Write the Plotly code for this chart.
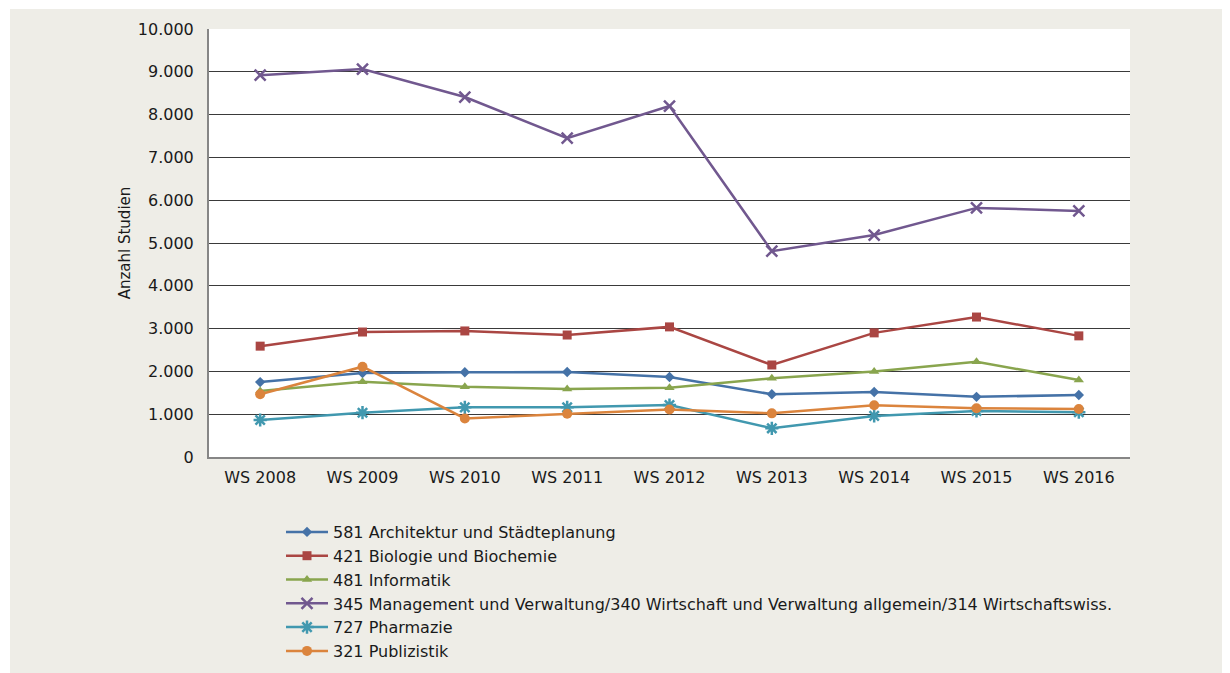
import plotly.graph_objects as go

categories = ["WS 2008", "WS 2009", "WS 2010", "WS 2011", "WS 2012", "WS 2013", "WS 2014", "WS 2015", "WS 2016"]

names = [
    "581 Architektur und Städteplanung",
    "421 Biologie und Biochemie",
    "481 Informatik",
    "345 Management und Verwaltung/340 Wirtschaft und Verwaltung allgemein/314 Wirtschaftswiss.",
    "727 Pharmazie",
    "321 Publizistik",
]

architektur = [1750, 1960, 1980, 1985, 1870, 1465, 1520, 1405, 1450]
biologie = [2590, 2920, 2945, 2850, 3040, 2150, 2900, 3270, 2830]
informatik = [1540, 1760, 1640, 1590, 1620, 1840, 1995, 2225, 1800]
management = [8920, 9065, 8410, 7450, 8200, 4810, 5185, 5820, 5750]
pharmazie = [865, 1035, 1160, 1160, 1215, 670, 960, 1075, 1045]
publizistik = [1465, 2110, 900, 1010, 1110, 1020, 1210, 1140, 1120]

series = [architektur, biologie, informatik, management, pharmazie, publizistik]
colors = ["#4572A7", "#AA4643", "#89A54E", "#71588F", "#4198AF", "#DB843D"]
symbols = ["diamond", "square", "triangle-up", "x-thin", "asterisk", "circle"]
sizes = [8, 9, 9, 11, 11, 10]

y_ticks = list(range(0, 10001, 1000))

FONT = "DejaVu Sans, sans-serif"
BG = "#EEEDE7"

fig = go.Figure()
for name, vals, c, s, sz in zip(names, series, colors, symbols, sizes):
    thin = s in ("x-thin", "asterisk")
    fig.add_trace(go.Scatter(
        x=categories, y=vals, name=name, mode="lines+markers",
        line=dict(color=c, width=2.5),
        marker=dict(symbol=s, size=sz, color=c,
                    line=dict(color=c, width=2.5 if thin else 0)),
    ))

OFF = 8  # page body offset
W, H = 1230 - OFF, 673 - OFF
ml, mr, mt, mb = 209 - OFF, 100, 29 - OFF, H - (457 - OFF)
pw, ph = W - ml - mr, H - mt - mb

def px_x(x):  # screen x -> paper
    return (x - OFF - ml) / pw

def px_y(y):  # screen y -> paper
    return (H - mb - (y - OFF)) / ph

fig.update_layout(
    width=W, height=H,
    margin=dict(l=ml, r=mr, t=mt, b=mb, autoexpand=False),
    paper_bgcolor=BG, plot_bgcolor="white",
    separators=",.",
    font=dict(family=FONT, size=16, color="#1a1a1a"),
    showlegend=True,
    legend=dict(
        orientation="v", x=px_x(281), y=px_y(515), xanchor="left", yanchor="top",
        bgcolor="rgba(0,0,0,0)", font=dict(family=FONT, size=16, color="#1a1a1a"),
        itemwidth=42, tracegroupgap=0,
    ),
    xaxis=dict(
        type="category", range=[-0.5, 8.5], showgrid=False,
        showline=True, linecolor="#868686", linewidth=2,
        ticks="", tickfont=dict(family=FONT, size=16), ticklabelstandoff=5,
        fixedrange=True,
    ),
    yaxis=dict(
        range=[0, 10000], tickvals=y_ticks, tickformat=",d",
        showgrid=True, gridcolor="#3a3a3a", gridwidth=1,
        showline=True, linecolor="#868686", linewidth=2,
        zeroline=False, ticks="", tickfont=dict(family=FONT, size=16),
        ticklabelstandoff=10,
        title=dict(text="Anzahl Studien", font=dict(family=FONT, size=15), standoff=4),
        fixedrange=True,
    ),
    shapes=[
        dict(type="rect", xref="paper", yref="paper", layer="below",
             x0=px_x(0), x1=px_x(1240), y0=px_y(0), y1=px_y(9),
             fillcolor="white", line=dict(width=0)),
        dict(type="rect", xref="paper", yref="paper", layer="below",
             x0=px_x(0), x1=px_x(10), y0=px_y(680), y1=px_y(0),
             fillcolor="white", line=dict(width=0)),
    ],
)

fig.write_html("out.html")
